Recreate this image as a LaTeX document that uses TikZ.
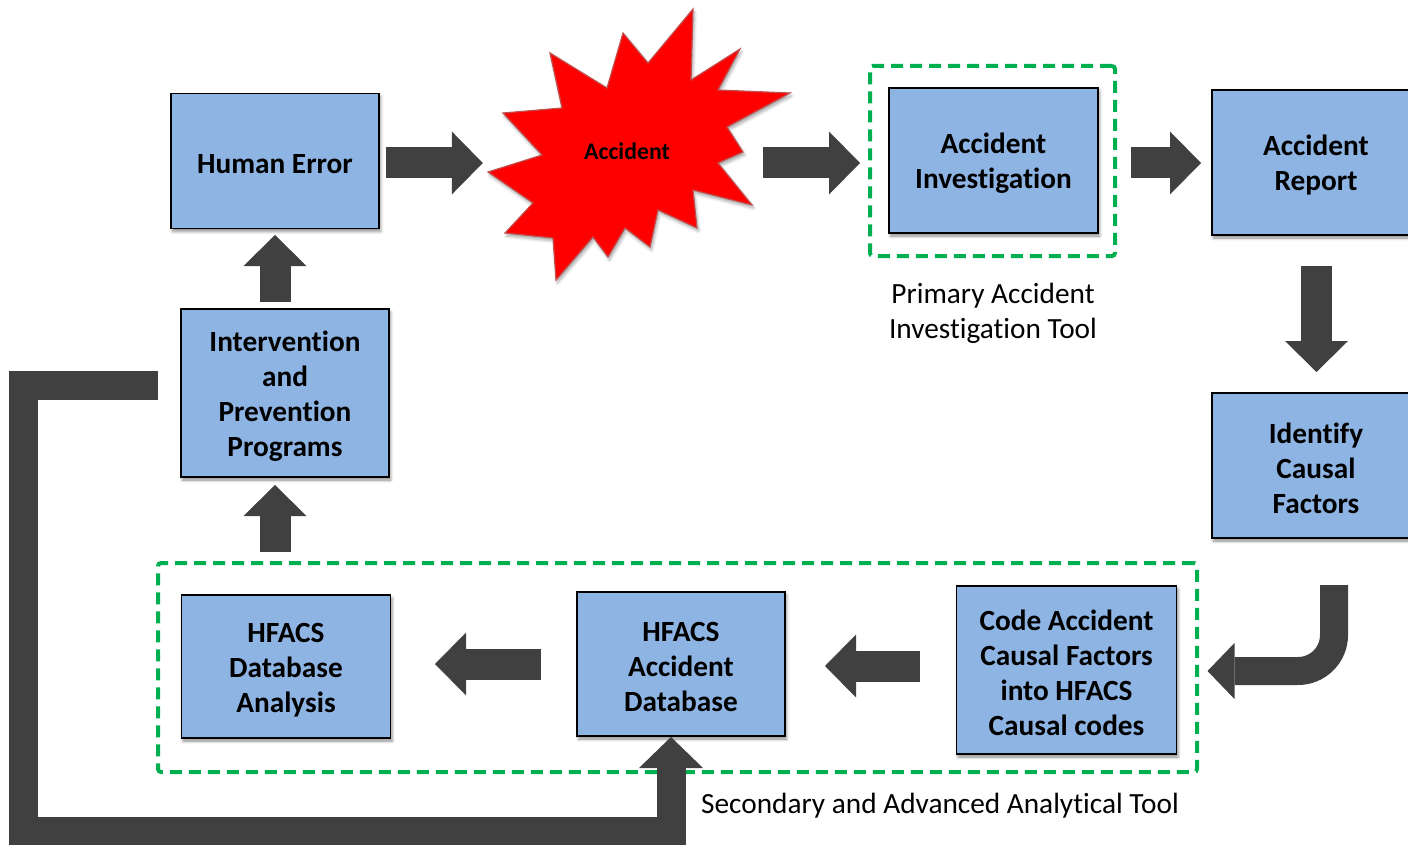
\documentclass[tikz,border=0pt]{standalone}
\usepackage{fontspec}
\setmainfont{Carlito}[Ligatures=NoCommon]
\usetikzlibrary{arrows.meta,shadows.blur}

\definecolor{boxblue}{HTML}{8EB4E3}
\definecolor{arrowgray}{HTML}{404040}
\definecolor{groupgreen}{HTML}{00B050}
\definecolor{burst}{HTML}{FF0000}
\definecolor{burstedge}{HTML}{C0504D}

% invisible strut that sets the text of a step a little lower in its box
\newcommand{\firstline}{\rule{0pt}{26pt}}

\tikzset{
  stepbox/.style={draw=black, line width=1.5pt, fill=boxblue, inner sep=0pt, outer sep=0pt,
    align=center, font=\fontsize{29.3}{35}\selectfont\bfseries,
    blur shadow={shadow xshift=1.5pt, shadow yshift=-3pt, shadow blur radius=3pt, shadow opacity=45}},
  groupframe/.style={draw=groupgreen, line width=4pt, dash pattern=on 12pt off 7pt,
    rounded corners=3pt, inner sep=0pt, outer sep=0pt},
  blockarrow/.style={draw=arrowgray, line width=31pt, line cap=butt,
    -{Triangle[width=63pt,length=31pt,line width=0pt]}},
  bentarrow/.style={draw=arrowgray, line width=28pt, line cap=butt, rounded corners=36pt,
    -{Triangle[width=56pt,length=27pt,line width=0pt]}},
  loopback/.style={draw=arrowgray, line width=29pt, line cap=butt, line join=miter,
    -{Triangle[width=64pt,length=31pt,line width=0pt]}},
  caption/.style={align=center, font=\fontsize{29.3}{35}\selectfont, inner sep=0pt},
}

\begin{document}
\begin{tikzpicture}[x=1pt, y=-1pt]
\useasboundingbox (0,0) rectangle (1408,845);
\clip (0,0) rectangle (1408,845);

% process steps
\node[stepbox, minimum width=208, minimum height=135] (he)   at (275,161)     {\firstline Human Error};
\node[stepbox, minimum width=209, minimum height=145] (inv)  at (993.5,160.5) {\firstline Accident\\Investigation};
\node[stepbox, minimum width=208, minimum height=145] (rep)  at (1316,162.5)  {\firstline Accident\\Report};
\node[stepbox, minimum width=208, minimum height=145] (ide)  at (1316,465.5)  {\firstline Identify\\Causal\\Factors};
\node[stepbox, minimum width=220, minimum height=168] (code) at (1066.5,670)   {\firstline Code Accident\\Causal Factors\\into HFACS\\Causal codes};
\node[stepbox, minimum width=208, minimum height=144] (db)   at (681,664)     {\firstline HFACS\\Accident\\Database};
\node[stepbox, minimum width=209, minimum height=143] (ana)  at (286,666.5)   {\firstline HFACS\\Database\\Analysis};
\node[stepbox, minimum width=208, minimum height=168] (ipp)  at (285,393)     {\firstline Intervention\\and\\Prevention\\Programs};

% the accident burst
\filldraw[fill=burst, draw=burstedge, line width=1.2pt,
  blur shadow={shadow xshift=1.5pt, shadow yshift=-3pt, shadow blur radius=3pt, shadow opacity=35}]
  (693,9) -- (691,80) -- (740,49) -- (718,90) -- (790,93) -- (727,127) -- (743,152)
  -- (718,163) -- (752,205) -- (693,190) -- (697,228) -- (658,210) -- (650,247)
  -- (625,228) -- (608,257) -- (593,237) -- (556,280) -- (553,238) -- (505,233)
  -- (533,203) -- (488,172) -- (542,155) -- (503,113) -- (562,108) -- (550,53)
  -- (607,88) -- (623,33) -- (648,63) -- cycle;
\node[font=\fontsize{23.8}{28}\selectfont\bfseries, minimum width=270, inner sep=0pt] (acc) at (627,151) {Accident};

% tool groupings
\node[groupframe, minimum width=245, minimum height=190] (g1) at (992.5,161) {};
\node[groupframe, minimum width=1039, minimum height=209] (g2) at (677.5,667.5) {};
\node[caption] (lbl1) at (993,313) {Primary Accident\\Investigation Tool};
\node[caption] (lbl2) at (940,806) {Secondary and Advanced Analytical Tool};

% flow arrows
\draw[blockarrow] ([shift={(7,2)}]he.east) -- ([shift={(-9,12)}]acc.west);
\draw[blockarrow] ([shift={(1,12)}]acc.east) -- ([shift={(-29,2.5)}]inv.west);
\draw[blockarrow] ([shift={(33,2.5)}]inv.east) -- ([shift={(-11,0.5)}]rep.west);
\draw[blockarrow] ([shift={(0.5,31)}]rep.south) -- ([shift={(0.5,-21)}]ide.north);
\draw[bentarrow] ([shift={(18,47)}]ide.south) |- ([shift={(31,1)}]code.east);
\draw[blockarrow] ([shift={(-36.5,-4)}]code.west) -- ([shift={(40,2)}]db.east);
\draw[blockarrow] ([shift={(-36,0)}]db.west) -- ([shift={(44.5,-2.5)}]ana.east);
\draw[blockarrow] ([shift={(117,-11)}]g2.north west) -- ([shift={(-10,8)}]ipp.south);
\draw[blockarrow] ([shift={(-10,-7)}]ipp.north) -- ([shift={(0,6.5)}]he.south);

% feedback from prevention programmes into the database
\draw[loopback] ([shift={(-23,-8)}]ipp.west) -| (23,831) -| ([shift={(-10,1)}]db.south);
\end{tikzpicture}
\end{document}
